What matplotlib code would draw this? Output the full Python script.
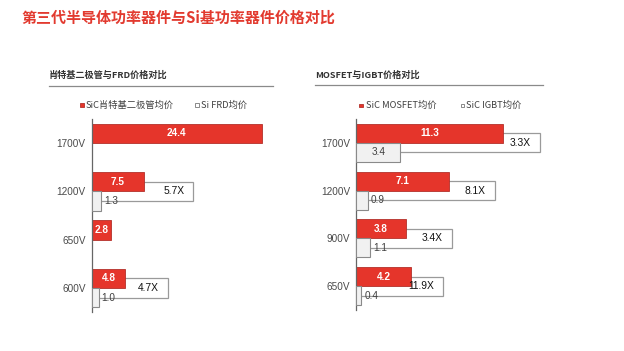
import matplotlib
matplotlib.use('Agg')
import matplotlib.pyplot as plt
from matplotlib.patches import Rectangle
from matplotlib.lines import Line2D

plt.rcParams['font.family'] = ['Liberation Sans', 'Noto Sans CJK SC', 'DejaVu Sans']

# ---------------- data ----------------
title = '第三代半导体功率器件与Si基功率器件价格对比'

left_title = '肖特基二极管与FRD价格对比'
left_legend = ['SiC肖特基二极管均价', 'Si FRD均价']
left_categories = ['1700V', '1200V', '650V', '600V']
left_sic = [24.4, 7.5, 2.8, 4.8]
left_si = [None, 1.3, None, 1.0]
left_ratio = [None, '5.7X', None, '4.7X']
left_callout_end = [None, 14.6, None, 10.9]

right_title = 'MOSFET与IGBT价格对比'
right_legend = ['SiC MOSFET均价', 'SiC IGBT均价']
right_categories = ['1700V', '1200V', '900V', '650V']
right_mosfet = [11.3, 7.1, 3.8, 4.2]
right_igbt = [3.4, 0.9, 1.1, 0.4]
right_ratio = ['3.3X', '8.1X', '3.4X', '11.9X']
right_callout_end = [14.1, 10.66, 7.36, 6.67]

# ---------------- style ----------------
RED = '#e5352b'
RED_EDGE = '#b3302a'
GRAY_FILL = '#f1f1f1'
GRAY_EDGE = '#8a8a8a'
TITLE_RED = '#e23a2f'

W, H = 624, 351
fig = plt.figure(figsize=(W / 100, H / 100), dpi=100)
fig.patch.set_facecolor('white')


def fx(x):
    return x / W


def fy(y):
    return 1 - y / H


def px_axes(x0, y0, x1, y1):
    return fig.add_axes([fx(x0), fy(y1), fx(x1) - fx(x0), (y1 - y0) / H])


def draw_panel(ax, cats, a, b, ratio, callout, xmax, inside_min):
    n = len(cats)
    ax.set_xlim(0, xmax)
    ax.set_ylim(n - 0.5, -0.5)
    ys = list(range(n))
    # callout boxes (behind bars)
    for i in ys:
        if callout[i] is not None:
            ax.add_patch(Rectangle((0, i - 0.2), callout[i], 0.4, facecolor='white',
                                   edgecolor='#9a9a9a', lw=0.9, zorder=1))
            ax.annotate(ratio[i], (callout[i], i), xytext=(-6.5, 0),
                        textcoords='offset points', ha='right', va='center',
                        fontsize=7.4, color='#111111', zorder=5)
    ax.barh([y - 0.2 for y in ys], a, height=0.4, color=RED, edgecolor=RED_EDGE,
            lw=0.6, zorder=2)
    bi = [i for i in ys if b[i] is not None]
    ax.barh([i + 0.2 for i in bi], [b[i] for i in bi], height=0.4, color=GRAY_FILL,
            edgecolor=GRAY_EDGE, lw=0.8, zorder=3)
    for i in ys:
        ax.text(a[i] / 2, i - 0.2, f'{a[i]:.1f}', ha='center', va='center',
                fontsize=7.2, color='white', fontweight='bold', zorder=6)
        if b[i] is not None:
            if b[i] >= inside_min:
                ax.text(b[i] / 2, i + 0.2, f'{b[i]:.1f}', ha='center', va='center',
                        fontsize=7.2, color='#404040', zorder=6)
            else:
                ax.annotate(f'{b[i]:.1f}', (b[i], i + 0.2), xytext=(2.2, 0),
                            textcoords='offset points', ha='left', va='center',
                            fontsize=7.2, color='#404040', zorder=6)
    for s in ['top', 'right', 'bottom']:
        ax.spines[s].set_visible(False)
    ax.spines['left'].set_color('#666666')
    ax.spines['left'].set_linewidth(0.9)
    ax.set_xticks([])
    ax.set_yticks(ys)
    ax.set_yticklabels(cats, fontsize=7.2, color='#4a4a4a')
    ax.tick_params(axis='y', length=0, pad=4.3)
    ax.set_facecolor('none')


ax_l = px_axes(91.7, 119, 280, 312)
draw_panel(ax_l, left_categories, left_sic, left_si, left_ratio, left_callout_end,
           (280 - 91.7) / 6.97, 2.0)

ax_r = px_axes(356, 119, 550, 310)
draw_panel(ax_r, right_categories, right_mosfet, right_igbt, right_ratio,
           right_callout_end, (550 - 356) / 13.04, 2.0)

# ---------------- texts ----------------
fig.text(fx(21.5), fy(17.5), title, ha='left', va='center', fontsize=10.8,
         color=TITLE_RED, fontweight='bold', family=['Noto Sans CJK SC', 'DejaVu Sans'])

sub_font = ['Noto Sans CJK SC', 'DejaVu Sans']
fig.text(fx(49), fy(75), left_title, ha='left', va='center', fontsize=6.6,
         color='#333333', fontweight='bold', family=sub_font)
fig.text(fx(315.5), fy(75), right_title, ha='left', va='center', fontsize=6.6,
         color='#333333', fontweight='bold', family=sub_font)

fig.add_artist(Line2D([fx(49), fx(273)], [fy(85.5), fy(85.5)], color='#8a8a8a', lw=0.9))
fig.add_artist(Line2D([fx(315), fx(543)], [fy(84.5), fy(84.5)], color='#8a8a8a', lw=0.9))


def legend_item(x, y, label, filled):
    s = 3.6
    fig.add_artist(Rectangle((fx(x), fy(y + s / 2)), s / W, s / H,
                             transform=fig.transFigure,
                             facecolor=RED if filled else 'white',
                             edgecolor=RED_EDGE if filled else '#777777', lw=0.6))
    fig.text(fx(x + 6), fy(y), label, ha='left', va='center', fontsize=6.7,
             color='#404040', family=sub_font)


legend_item(80, 105, left_legend[0], True)
legend_item(195, 105, left_legend[1], False)
legend_item(359.5, 105.5, right_legend[0], True)
legend_item(460.5, 105.5, right_legend[1], False)

fig.savefig('out.png', dpi=100, facecolor='white')
